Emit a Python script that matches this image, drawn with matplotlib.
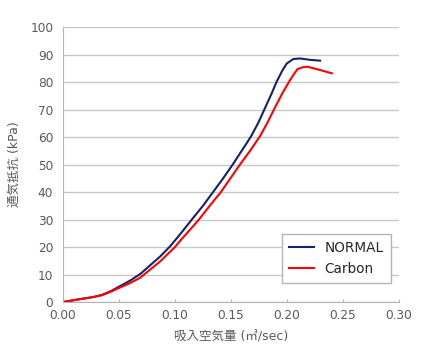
import matplotlib
matplotlib.use('Agg')
import matplotlib.pyplot as plt

plt.rcParams['font.family'] = ['DejaVu Sans', 'Noto Sans CJK JP']

# data
normal_x = [0.0, 0.013, 0.027, 0.035, 0.043, 0.051, 0.060, 0.069, 0.0866, 0.0955,
            0.1045, 0.116, 0.125, 0.134, 0.143, 0.1515, 0.160, 0.1675, 0.1745,
            0.1804, 0.1864, 0.1908, 0.1962, 0.1998, 0.2057, 0.2116, 0.2206, 0.2295]
normal_y = [0, 0.9, 1.8, 2.6, 4.0, 5.8, 7.8, 10.2, 16.5, 20.2,
            24.6, 30.5, 35, 40, 45, 50, 55.3, 60, 65.3,
            70.6, 76, 80.2, 84.5, 86.8, 88.4, 88.6, 88.1, 87.8]

carbon_x = [0.0, 0.013, 0.027, 0.035, 0.043, 0.051, 0.060, 0.0688, 0.0866, 0.100,
            0.1045, 0.113, 0.122, 0.131, 0.141, 0.1495, 0.158, 0.167, 0.176, 0.1825,
            0.1893, 0.1962, 0.2025, 0.2062, 0.2093, 0.214, 0.2182, 0.2295, 0.240]
carbon_y = [0, 0.9, 1.8, 2.5, 3.8, 5.3, 6.9, 8.8, 14.7, 20,
            22.2, 26.1, 30.3, 35, 40, 45, 50, 55, 60.4, 65.2,
            70.8, 76.2, 80.6, 82.9, 84.7, 85.4, 85.6, 84.4, 83.2]

xticks = [0.00, 0.05, 0.10, 0.15, 0.20, 0.25, 0.30]
yticks = list(range(0, 101, 10))

txt = '#595959'

fig = plt.figure(figsize=(4.4, 3.57), dpi=100)
ax = fig.add_axes([0.143, 0.154, 0.764, 0.77])

ax.plot(normal_x, normal_y, color='#14216b', lw=1.5, label='NORMAL',
        solid_joinstyle='round')
ax.plot(carbon_x, carbon_y, color='#ff0000', lw=1.5, label='Carbon',
        solid_joinstyle='round')

ax.set_xlim(0, 0.3)
ax.set_ylim(0, 100)
ax.set_xticks(xticks)
ax.set_xticklabels(['%.2f' % v for v in xticks])
ax.set_yticks(yticks)

ax.grid(axis='y', color='#c8c8c8', lw=1)
ax.set_axisbelow(True)
for s in ['top', 'right']:
    ax.spines[s].set_visible(False)
for s in ['left', 'bottom']:
    ax.spines[s].set_color('#b4b4b4')
ax.tick_params(axis='both', colors='#b4b4b4', labelcolor=txt, labelsize=8.7, length=2)
ax.tick_params(axis='x', direction='in', pad=5)
ax.tick_params(axis='y', length=0, pad=7)

ax.set_xlabel('吸入空気量 (㎥/sec)', color=txt, fontsize=9, labelpad=6)
ax.set_ylabel('通気抵抗 (kPa)', color=txt, fontsize=9, labelpad=7)

leg = ax.legend(loc='lower right', bbox_to_anchor=(0.995, 0.045), fontsize=9.8,
                fancybox=False, framealpha=1, edgecolor='#b4b4b4',
                handlelength=1.8, labelspacing=0.5, borderpad=0.5)
for t in leg.get_texts():
    t.set_color('#262626')

fig.savefig('out.png', dpi=100)
